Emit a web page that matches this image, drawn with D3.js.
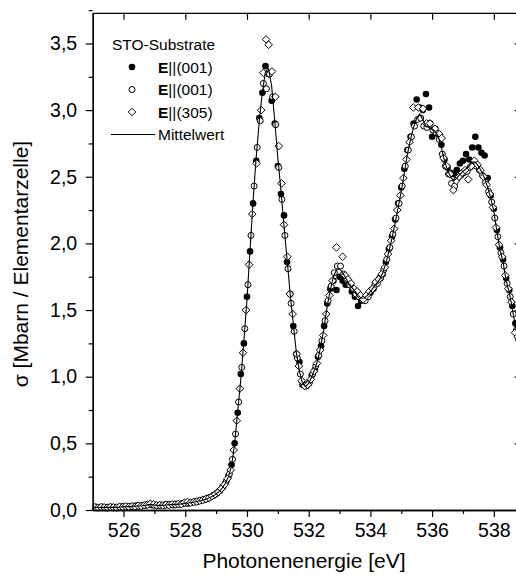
<!DOCTYPE html>
<html>
<head>
<meta charset="utf-8">
<script src="https://cdn.jsdelivr.net/npm/d3@7"></script>
<style>
  body { margin: 0; background: #fff; }
  svg { display: block; }
  text { font-family: "Liberation Sans", Arial, Helvetica, sans-serif; fill: #000; }
</style>
</head>
<body>
<svg id="chart" width="516" height="577"></svg>
<script>
// O K-edge absorption of SrTiO3 substrate: cross-section per unit cell vs photon energy.

// Axis ticks
const xTicks = [526, 528, 530, 532, 534, 536, 538];
const xMinorTicks = [527, 529, 531, 533, 535, 537];
const yTicks = [0, 0.5, 1.0, 1.5, 2.0, 2.5, 3.0, 3.5];
const yMinorTicks = [0.25, 0.75, 1.25, 1.75, 2.25, 2.75, 3.25, 3.75];

// Legend entries
const legendTitle = "STO-Substrate";
const legendLabels = ["(001)", "(001)", "(305)"];
const meanLabel = "Mittelwert";

// Energy grid of the first E||(001) scan and the averaged curve (eV)
const energyA = [
  525.0,525.1,525.2,525.3,525.4,525.5,525.6,525.7,525.8,525.9,
  526.0,526.1,526.2,526.3,526.4,526.5,526.6,526.7,526.8,526.9,
  527.0,527.1,527.2,527.3,527.4,527.5,527.6,527.7,527.8,527.9,
  528.0,528.1,528.2,528.3,528.4,528.5,528.6,528.7,528.8,528.9,
  529.0,529.1,529.2,529.3,529.4,529.5,529.6,529.7,529.8,529.9,
  530.0,530.1,530.2,530.3,530.4,530.5,530.6,530.7,530.8,530.9,
  531.0,531.1,531.2,531.3,531.4,531.5,531.6,531.7,531.8,531.9,
  532.0,532.1,532.2,532.3,532.4,532.5,532.6,532.7,532.8,532.9,
  533.0,533.1,533.2,533.3,533.4,533.5,533.6,533.7,533.8,533.9,
  534.0,534.1,534.2,534.3,534.4,534.5,534.6,534.7,534.8,534.9,
  535.0,535.1,535.2,535.3,535.4,535.5,535.6,535.7,535.8,535.9,
  536.0,536.1,536.2,536.3,536.4,536.5,536.6,536.7,536.8,536.9,
  537.0,537.1,537.2,537.3,537.4,537.5,537.6,537.7,537.8,537.9,
  538.0,538.1,538.2,538.3,538.4,538.5,538.6,538.7,538.8,538.9
];

// E||(001), first scan (filled circles), Mbarn per unit cell
const sigmaFilled = [
  .018,.022,.020,.016,.021,.019,.023,.020,.018,.024,
  .026,.022,.027,.025,.031,.028,.033,.038,.042,.037,
  .036,.034,.037,.035,.040,.042,.038,.044,.043,.048,
  .052,.050,.058,.062,.066,.072,.078,.086,.095,.108,
  .122,.142,.168,.200,.255,.340,.500,.730,1.02,1.25,
  1.60,1.94,2.30,2.62,2.94,3.13,3.33,3.27,3.07,2.90,
  2.58,2.37,2.21,1.86,1.62,1.38,1.17,1.11,0.94,0.93,
  0.95,1.01,1.05,1.15,1.23,1.38,1.55,1.66,1.72,1.65,
  1.75,1.72,1.69,1.69,1.64,1.60,1.53,1.57,1.58,1.60,
  1.63,1.66,1.71,1.74,1.77,1.86,1.96,2.05,2.18,2.30,
  2.42,2.56,2.70,2.80,2.90,3.08,3.02,3.00,3.12,3.02,
  2.80,2.86,2.82,2.74,2.63,2.57,2.53,2.52,2.55,2.60,
  2.62,2.67,2.63,2.72,2.80,2.72,2.68,2.66,2.49,2.36,
  2.26,2.10,1.97,1.88,1.74,1.65,1.53,1.40,1.28,1.17
];

// Averaged curve (Mittelwert) on energyA
const sigmaMean = [
  .020,.020,.020,.020,.020,.020,.020,.020,.020,.022,
  .025,.025,.025,.027,.030,.030,.032,.035,.040,.040,
  .038,.036,.035,.036,.038,.040,.040,.042,.044,.046,
  .050,.053,.056,.060,.065,.070,.076,.084,.094,.106,
  .120,.140,.165,.200,.250,.330,.500,.740,.980,1.27,
  1.58,1.95,2.33,2.65,2.92,3.14,3.29,3.31,3.18,2.92,
  2.64,2.40,2.13,1.88,1.62,1.40,1.18,1.04,0.95,0.925,
  0.95,1.00,1.06,1.13,1.24,1.37,1.53,1.65,1.75,1.80,
  1.81,1.78,1.74,1.70,1.67,1.64,1.61,1.59,1.59,1.61,
  1.64,1.67,1.70,1.73,1.78,1.85,1.94,2.04,2.15,2.27,
  2.39,2.53,2.67,2.78,2.87,2.94,2.97,2.93,2.88,2.87,
  2.86,2.84,2.80,2.72,2.62,2.55,2.50,2.47,2.49,2.52,
  2.54,2.56,2.58,2.61,2.61,2.58,2.54,2.49,2.42,2.34,
  2.24,2.09,1.95,1.86,1.72,1.63,1.51,1.38,1.26,1.15
];

// E||(001), second scan (open circles)
const energyB = [
  525.03,525.13,525.23,525.33,525.43,525.53,525.63,525.73,525.83,525.93,
  526.03,526.13,526.23,526.33,526.43,526.53,526.63,526.73,526.83,526.93,
  527.03,527.13,527.23,527.33,527.43,527.53,527.63,527.73,527.83,527.93,
  528.03,528.13,528.23,528.33,528.43,528.53,528.63,528.73,528.83,528.93,
  529.03,529.13,529.23,529.33,529.43,529.53,529.63,529.73,529.83,529.93,
  530.03,530.13,530.23,530.33,530.43,530.53,530.63,530.73,530.83,530.93,
  531.03,531.13,531.23,531.33,531.43,531.53,531.63,531.73,531.83,531.93,
  532.03,532.13,532.23,532.33,532.43,532.53,532.63,532.73,532.83,532.93,
  533.03,533.13,533.23,533.33,533.43,533.53,533.63,533.73,533.83,533.93,
  534.03,534.13,534.23,534.33,534.43,534.53,534.63,534.73,534.83,534.93,
  535.03,535.13,535.23,535.33,535.43,535.53,535.63,535.73,535.83,535.93,
  536.03,536.13,536.23,536.33,536.43,536.53,536.63,536.73,536.83,536.93,
  537.03,537.13,537.23,537.33,537.43,537.53,537.63,537.73,537.83,537.93,
  538.03,538.13,538.23,538.33,538.43,538.53,538.63,538.73,538.83,538.93
];
const sigmaOpen = [
  .020,.021,.019,.022,.018,.020,.021,.019,.022,.023,
  .024,.026,.023,.028,.029,.031,.034,.036,.040,.039,
  .037,.035,.036,.037,.039,.041,.040,.043,.045,.047,
  .051,.054,.057,.061,.067,.072,.078,.087,.097,.110,
  .126,.147,.175,.215,.270,.380,.570,.810,1.07,1.36,
  1.69,2.06,2.43,2.72,2.92,3.20,3.16,3.27,3.10,2.89,
  2.57,2.33,2.06,1.81,1.55,1.34,1.14,1.02,0.94,0.93,
  0.96,1.02,1.08,1.16,1.27,1.42,1.57,1.68,1.78,1.83,
  1.83,1.77,1.73,1.69,1.66,1.62,1.60,1.58,1.57,1.60,
  1.65,1.68,1.70,1.74,1.80,1.88,1.97,2.07,2.19,2.30,
  2.43,2.58,2.70,2.80,2.88,2.93,2.94,2.88,2.87,2.90,
  2.85,2.83,2.78,2.67,2.58,2.52,2.45,2.43,2.49,2.51,
  2.53,2.54,2.57,2.60,2.58,2.55,2.51,2.46,2.39,2.31,
  2.19,2.05,1.93,1.83,1.70,1.60,1.47,1.35,1.23,1.13
];

// E||(305) (open diamonds)
const energyC = [
  525.07,525.17,525.27,525.37,525.47,525.57,525.67,525.77,525.87,525.97,
  526.07,526.17,526.27,526.37,526.47,526.57,526.67,526.77,526.87,526.97,
  527.07,527.17,527.27,527.37,527.47,527.57,527.67,527.77,527.87,527.97,
  528.07,528.17,528.27,528.37,528.47,528.57,528.67,528.77,528.87,528.97,
  529.07,529.17,529.27,529.37,529.47,529.57,529.67,529.77,529.87,
  529.97,530.07,530.17,530.31,530.46,530.53,530.62,530.70,530.81,530.92,
  531.03,531.12,531.20,531.31,531.39,531.48,531.61,531.68,531.77,531.87,
  531.97,532.07,532.17,532.27,532.37,532.47,532.57,532.67,532.77,532.90,
  533.10,533.18,533.27,533.37,533.47,533.57,533.67,533.77,533.87,533.97,
  534.07,534.17,534.27,534.37,534.47,534.57,534.67,534.77,534.87,534.97,
  535.07,535.17,535.27,535.39,535.55,535.71,535.82,535.93,536.09,536.23,
  536.31,536.37,536.47,536.58,536.69,536.78,536.87,536.97,537.07,537.17,
  537.27,537.37,537.47,537.57,537.67,537.77,537.87,537.97,538.07,538.17,
  538.27,538.37,538.47,538.57,538.69,538.77,538.87
];
const sigmaDiamond = [
  .021,.018,.022,.020,.017,.023,.020,.018,.024,.022,
  .027,.024,.028,.026,.032,.030,.036,.040,.048,.041,
  .035,.037,.034,.039,.037,.043,.041,.045,.044,.055,
  .060,.055,.060,.064,.070,.076,.083,.092,.104,.118,
  .135,.160,.190,.235,.300,.450,.670,.910,1.18,
  1.50,1.84,2.22,2.60,3.00,3.28,3.53,3.49,3.29,3.10,
  2.73,2.45,2.14,1.90,1.62,1.47,1.17,1.08,0.97,0.93,
  0.94,0.98,1.04,1.10,1.20,1.31,1.47,1.61,1.72,1.97,
  1.90,1.76,1.73,1.70,1.66,1.64,1.61,1.58,1.61,1.64,
  1.66,1.71,1.73,1.77,1.82,1.92,2.02,2.11,2.25,2.36,
  2.49,2.63,2.76,3.02,3.02,3.01,2.90,2.90,2.86,2.82,
  2.79,2.64,2.58,2.52,2.40,2.47,2.50,2.53,2.55,2.48,
  2.58,2.62,2.59,2.55,2.50,2.44,2.37,2.27,2.12,1.99,
  1.90,1.76,1.66,1.56,1.33,1.30,1.20
];

const svg = d3.select("#chart");
const plotLeft = 92.7, plotRight = 521.6, plotTop = 12.8, plotBottom = 510;

const x = d3.scaleLinear().domain([525, 538.9]).range([plotLeft, plotRight]);
const y = d3.scaleLinear().domain([0, 3.73]).range([plotBottom, plotTop]);

const comma = d => d.toFixed(1).replace(".", ",");

svg.append("clipPath").attr("id", "plotArea")
  .append("rect").attr("x", plotLeft).attr("y", plotTop - 6)
  .attr("width", plotRight - plotLeft).attr("height", plotBottom - plotTop + 12);

const plot = svg.append("g").attr("clip-path", "url(#plotArea)");

const filledPts = energyA.map((e, i) => [e, sigmaFilled[i]]);
const openPts = energyB.map((e, i) => [e, sigmaOpen[i]]);
const diamondPts = energyC.map((e, i) => [e, sigmaDiamond[i]]);
const meanPts = energyA.map((e, i) => [e, sigmaMean[i]]);

const diamond = s => `M0,${-s}L${s},0L0,${s}L${-s},0Z`;

plot.append("g").selectAll("circle").data(filledPts).join("circle")
  .attr("cx", d => x(d[0])).attr("cy", d => y(d[1])).attr("r", 3.3)
  .attr("fill", "#000");

plot.append("g").selectAll("circle").data(openPts).join("circle")
  .attr("cx", d => x(d[0])).attr("cy", d => y(d[1])).attr("r", 3.0)
  .attr("fill", "#fff").attr("stroke", "#000").attr("stroke-width", 1);

plot.append("g").selectAll("path").data(diamondPts).join("path")
  .attr("transform", d => `translate(${x(d[0])},${y(d[1])})`)
  .attr("d", diamond(3.8))
  .attr("fill", "#fff").attr("stroke", "#000").attr("stroke-width", 1);

plot.append("path").datum(meanPts)
  .attr("fill", "none").attr("stroke", "#000").attr("stroke-width", 1.1)
  .attr("d", d3.line().x(d => x(d[0])).y(d => y(d[1])));

// Axes
const axisStyle = g => {
  g.selectAll("path.domain").attr("stroke", "#000").attr("stroke-width", 1.3);
  g.selectAll(".tick line").attr("stroke", "#000").attr("stroke-width", 1.2);
};

svg.append("g").attr("transform", `translate(0,${plotBottom})`)
  .call(d3.axisBottom(x).tickValues(xMinorTicks).tickSize(4).tickFormat("").tickSizeOuter(0))
  .call(axisStyle);
svg.append("g").attr("transform", `translate(0,${plotBottom})`)
  .call(d3.axisBottom(x).tickValues(xTicks).tickSize(7).tickPadding(6).tickSizeOuter(0)
        .tickFormat(d3.format("d")))
  .call(axisStyle)
  .call(g => g.selectAll("text").attr("font-size", 19.5).attr("font-family", null));

svg.append("g").attr("transform", `translate(${plotLeft},0)`)
  .call(d3.axisLeft(y).tickValues(yMinorTicks).tickSize(4).tickFormat("").tickSizeOuter(0))
  .call(axisStyle);
svg.append("g").attr("transform", `translate(${plotLeft},0)`)
  .call(d3.axisLeft(y).tickValues(yTicks).tickSize(7).tickPadding(8.5).tickSizeOuter(0)
        .tickFormat(comma))
  .call(axisStyle)
  .call(g => g.selectAll("text").attr("font-size", 19.5).attr("font-family", null));

svg.append("g").attr("transform", `translate(0,${plotTop})`)
  .call(d3.axisTop(x).tickValues(xTicks).tickSize(-7).tickFormat("").tickSizeOuter(0))
  .call(axisStyle);
svg.append("g").attr("transform", `translate(${plotRight},0)`)
  .call(d3.axisRight(y).tickValues(yTicks).tickSize(-7).tickFormat("").tickSizeOuter(0))
  .call(axisStyle);

// Axis titles
svg.append("text")
  .attr("x", 304).attr("y", 568).attr("text-anchor", "middle")
  .attr("font-size", 21).text("Photonenenergie [eV]");
svg.append("text")
  .attr("transform", "translate(28,264) rotate(-90)").attr("text-anchor", "middle")
  .attr("font-size", 21).text("\u03c3 [Mbarn / Elementarzelle]");

// Legend
const leg = svg.append("g").attr("font-size", 15.5);
const rowY = [67, 89.5, 112];
const markX = 132, labelX = 158;
leg.append("text").attr("x", 112).attr("y", 49.5).text(legendTitle);

leg.append("circle").attr("cx", markX).attr("cy", rowY[0]).attr("r", 3.3).attr("fill", "#000");
leg.append("circle").attr("cx", markX).attr("cy", rowY[1]).attr("r", 3.0)
  .attr("fill", "#fff").attr("stroke", "#000");
leg.append("path").attr("transform", `translate(${markX},${rowY[2]})`).attr("d", diamond(3.8))
  .attr("fill", "#fff").attr("stroke", "#000");

legendLabels.forEach((lab, i) => {
  const t = leg.append("text").attr("x", labelX).attr("y", rowY[i] + 5.5);
  t.append("tspan").attr("font-weight", "bold").text("E");
  t.append("tspan").text("||" + lab);
});

const lineY = 134.5;
leg.append("line").attr("x1", 111).attr("x2", 155).attr("y1", lineY).attr("y2", lineY)
  .attr("stroke", "#000").attr("stroke-width", 1.1);
leg.append("text").attr("x", labelX).attr("y", lineY + 5.5).text(meanLabel);
</script>
</body>
</html>
